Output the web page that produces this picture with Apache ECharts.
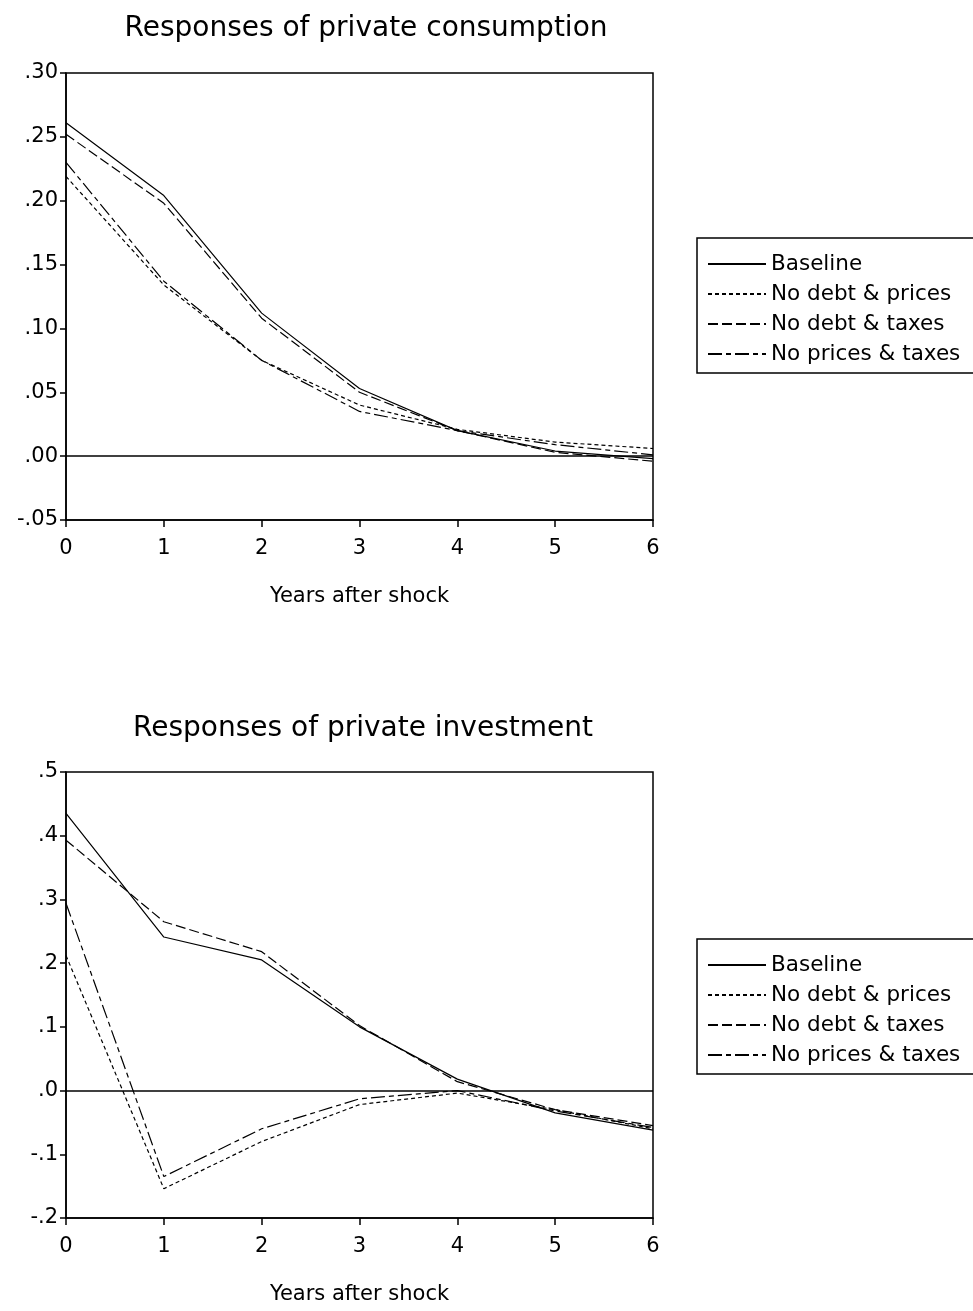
<!DOCTYPE html>
<html>
<head>
<meta charset="utf-8">
<script src="https://cdn.jsdelivr.net/npm/echarts@6/dist/echarts.min.js"></script>
<style>
html,body{margin:0;padding:0;background:#fff;}
#chart{width:973px;height:1311px;}
</style>
</head>
<body>
<div id="chart"></div>
<script>
// ---- data ----
var years = [0, 1, 2, 3, 4, 5, 6];
var seriesNames = ['Baseline', 'No debt & prices', 'No debt & taxes', 'No prices & taxes'];

// Responses of private consumption
var consBaseline      = [0.261, 0.204, 0.112, 0.053, 0.020, 0.004, -0.002];
var consNoDebtPrices  = [0.219, 0.134, 0.075, 0.040, 0.021, 0.011, 0.006];
var consNoDebtTaxes   = [0.252, 0.198, 0.108, 0.050, 0.020, 0.003, -0.004];
var consNoPricesTaxes = [0.230, 0.137, 0.075, 0.035, 0.020, 0.009, 0.001];

// Responses of private investment
var invBaseline      = [0.435, 0.241, 0.205, 0.100, 0.018, -0.035, -0.062];
var invNoDebtPrices  = [0.212, -0.154, -0.080, -0.022, -0.004, -0.030, -0.060];
var invNoDebtTaxes   = [0.393, 0.265, 0.218, 0.102, 0.014, -0.030, -0.055];
var invNoPricesTaxes = [0.294, -0.135, -0.060, -0.013, 0.000, -0.032, -0.058];

var consTickValues = [-0.05, 0.00, 0.05, 0.10, 0.15, 0.20, 0.25, 0.30];
var consTickLabels = ['-.05', '.00', '.05', '.10', '.15', '.20', '.25', '.30'];
var invTickValues = [-0.2, -0.1, 0.0, 0.1, 0.2, 0.3, 0.4, 0.5];
var invTickLabels = ['-.2', '-.1', '.0', '.1', '.2', '.3', '.4', '.5'];
var xTickLabels = ['0', '1', '2', '3', '4', '5', '6'];

var titles = ['Responses of private consumption', 'Responses of private investment'];
var xAxisName = 'Years after shock';

// ---- build ----
var FONT = 'DejaVu Sans';
function pairs(vals) { return years.map(function (x, i) { return [x, vals[i]]; }); }
function tickFormatter(values, labels) {
  return function (v) {
    for (var i = 0; i < values.length; i++) if (Math.abs(v - values[i]) < 1e-9) return labels[i];
    return '';
  };
}
var dashStyles = [
  { type: 'solid' },
  { type: [4, 3] },
  { type: [10, 4] },
  { type: [14, 4, 5, 4] }
];
var groups = [
  [consBaseline, consNoDebtPrices, consNoDebtTaxes, consNoPricesTaxes],
  [invBaseline, invNoDebtPrices, invNoDebtTaxes, invNoPricesTaxes]
];

var grids = [
  { left: 66, top: 73, width: 587, height: 447, show: true, borderColor: '#000', borderWidth: 1.5, backgroundColor: '#fff' },
  { left: 66, top: 772, width: 587, height: 446, show: true, borderColor: '#000', borderWidth: 1.5, backgroundColor: '#fff' }
];

var axisLineStyle = { color: '#000', width: 1.5 };
var xAxes = [0, 1].map(function (g) {
  return {
    type: 'value', gridIndex: g, min: 0, max: 6, interval: 1,
    axisLine: { show: true, onZero: false, lineStyle: axisLineStyle },
    axisTick: { show: true, length: 7, lineStyle: { color: '#000', width: 1.5 } },
    axisLabel: { color: '#000', fontFamily: FONT, fontSize: 21, margin: 18,
      formatter: function (v) { return xTickLabels[Math.round(v)]; } },
    splitLine: { show: false },
    name: xAxisName, nameLocation: 'middle', nameGap: 66,
    nameTextStyle: { color: '#000', fontFamily: FONT, fontSize: 21 }
  };
});
var yAxes = [
  { min: -0.05, max: 0.30, interval: 0.05, tv: consTickValues, tl: consTickLabels },
  { min: -0.2, max: 0.5, interval: 0.1, tv: invTickValues, tl: invTickLabels }
].map(function (c, g) {
  return {
    type: 'value', gridIndex: g, min: c.min, max: c.max, interval: c.interval,
    axisLine: { show: true, onZero: false, lineStyle: axisLineStyle },
    axisTick: { show: true, length: 6, lineStyle: { color: '#000', width: 1.5 } },
    axisLabel: { color: '#000', fontFamily: FONT, fontSize: 21, margin: 8,
      formatter: tickFormatter(c.tv, c.tl) },
    splitLine: { show: false }
  };
});

var series = [];
groups.forEach(function (grp, g) {
  grp.forEach(function (vals, k) {
    var s = {
      type: 'line', name: seriesNames[k], xAxisIndex: g, yAxisIndex: g,
      data: pairs(vals), symbol: 'none', showSymbol: false, animation: false,
      lineStyle: { color: '#000', width: 1.2, type: dashStyles[k].type },
      itemStyle: { color: '#000' },
      z: 3
    };
    if (k === 0) {
      s.markLine = {
        silent: true, symbol: 'none', animation: false,
        label: { show: false },
        lineStyle: { color: '#000', width: 1.5, type: 'solid' },
        data: [{ yAxis: 0 }]
      };
    }
    series.push(s);
  });
});

var legends = [238, 939].map(function (top) {
  return {
    data: seriesNames, orient: 'vertical', left: 697, top: top,
    itemWidth: 58, itemHeight: 14, itemGap: 8,
    padding: [15, 40, 8, 10],
    borderColor: '#000', borderWidth: 1.5, backgroundColor: '#fff',
    selectedMode: false,
    itemStyle: { opacity: 0 },
    textStyle: { color: '#000', fontFamily: FONT, fontSize: 21.5, lineHeight: 22 }
  };
});

var option = {
  backgroundColor: '#fff',
  animation: false,
  title: [
    { text: titles[0], left: 361, top: 10, textAlign: 'center',
      textStyle: { color: '#000', fontFamily: FONT, fontSize: 28, fontWeight: 'normal' } },
    { text: titles[1], left: 358, top: 710, textAlign: 'center',
      textStyle: { color: '#000', fontFamily: FONT, fontSize: 28, fontWeight: 'normal' } }
  ],
  legend: legends,
  grid: grids,
  xAxis: xAxes,
  yAxis: yAxes,
  series: series
};

var chart = echarts.init(document.getElementById('chart'), null, { renderer: 'canvas' });
chart.setOption(option);
</script>
</body>
</html>
